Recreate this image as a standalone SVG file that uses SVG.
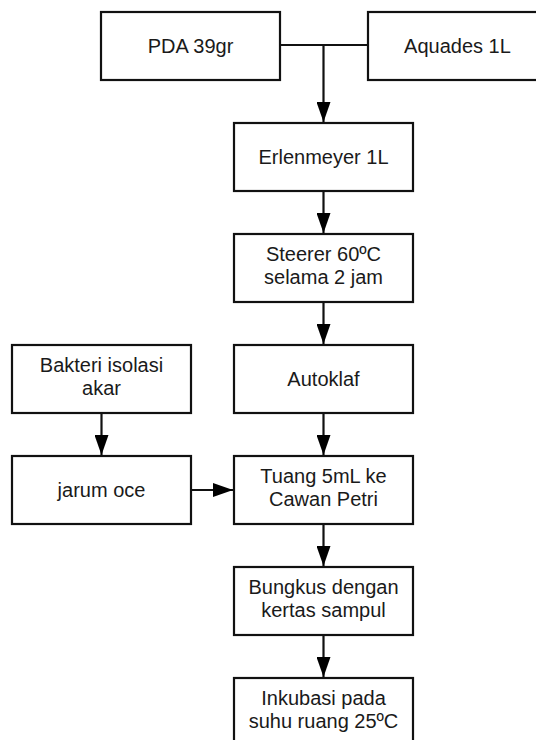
<svg xmlns="http://www.w3.org/2000/svg" width="536" height="740" viewBox="0 0 536 740">
<style>
.box{fill:#fff;stroke:#111;stroke-width:2.2}
.t{font-family:"Liberation Sans",Arial,sans-serif;font-size:20px;fill:#1a1a1a;text-anchor:middle}
.c{fill:none;stroke:#111;stroke-width:2.2}
</style>
<defs>
<marker id="ah" markerUnits="userSpaceOnUse" markerWidth="20" markerHeight="14" refX="20" refY="7" orient="auto" viewBox="0 0 20 14">
<path d="M0,0 L20,7 L0,14 Z" fill="#000"/>
</marker>
</defs>
<rect width="536" height="740" fill="#fff"/>
<g id="connectors">
<path class="c" d="M280,45 H368"/>
<path class="c" d="M323.5,45 V122" marker-end="url(#ah)"/>
<path class="c" d="M323.5,191 V233" marker-end="url(#ah)"/>
<path class="c" d="M323.5,302 V344" marker-end="url(#ah)"/>
<path class="c" d="M323.5,413 V455" marker-end="url(#ah)"/>
<path class="c" d="M323.5,524 V566" marker-end="url(#ah)"/>
<path class="c" d="M323.5,635 V677" marker-end="url(#ah)"/>
<path class="c" d="M101.5,413 V455" marker-end="url(#ah)"/>
<path class="c" d="M191,490 H233" marker-end="url(#ah)"/>
</g>
<g id="pda"><rect class="box" x="101" y="12" width="179" height="68"/><text class="t" x="190.5" y="53">PDA 39gr</text></g>
<g id="aquades"><rect class="box" x="368" y="12" width="179" height="68"/><text class="t" x="457.5" y="53">Aquades 1L</text></g>
<g id="erlenmeyer"><rect class="box" x="234" y="123" width="179" height="68"/><text class="t" x="323.5" y="164">Erlenmeyer 1L</text></g>
<g id="steerer"><rect class="box" x="234" y="234" width="179" height="68"/><text class="t" x="323.5" y="261">Steerer 60ºC</text><text class="t" x="323.5" y="284">selama 2 jam</text></g>
<g id="bakteri"><rect class="box" x="12" y="345" width="179" height="68"/><text class="t" x="101.5" y="372">Bakteri isolasi</text><text class="t" x="101.5" y="395">akar</text></g>
<g id="autoklaf"><rect class="box" x="234" y="345" width="179" height="68"/><text class="t" x="323.5" y="386">Autoklaf</text></g>
<g id="jarum"><rect class="box" x="12" y="456" width="179" height="68"/><text class="t" x="101.5" y="497">jarum oce</text></g>
<g id="tuang"><rect class="box" x="234" y="456" width="179" height="68"/><text class="t" x="323.5" y="483">Tuang 5mL ke</text><text class="t" x="323.5" y="506">Cawan Petri</text></g>
<g id="bungkus"><rect class="box" x="234" y="567" width="179" height="68"/><text class="t" x="323.5" y="594">Bungkus dengan</text><text class="t" x="323.5" y="617">kertas sampul</text></g>
<g id="inkubasi"><rect class="box" x="234" y="678" width="179" height="68"/><text class="t" x="323.5" y="705">Inkubasi pada</text><text class="t" x="323.5" y="728">suhu ruang 25ºC</text></g>
</svg>
